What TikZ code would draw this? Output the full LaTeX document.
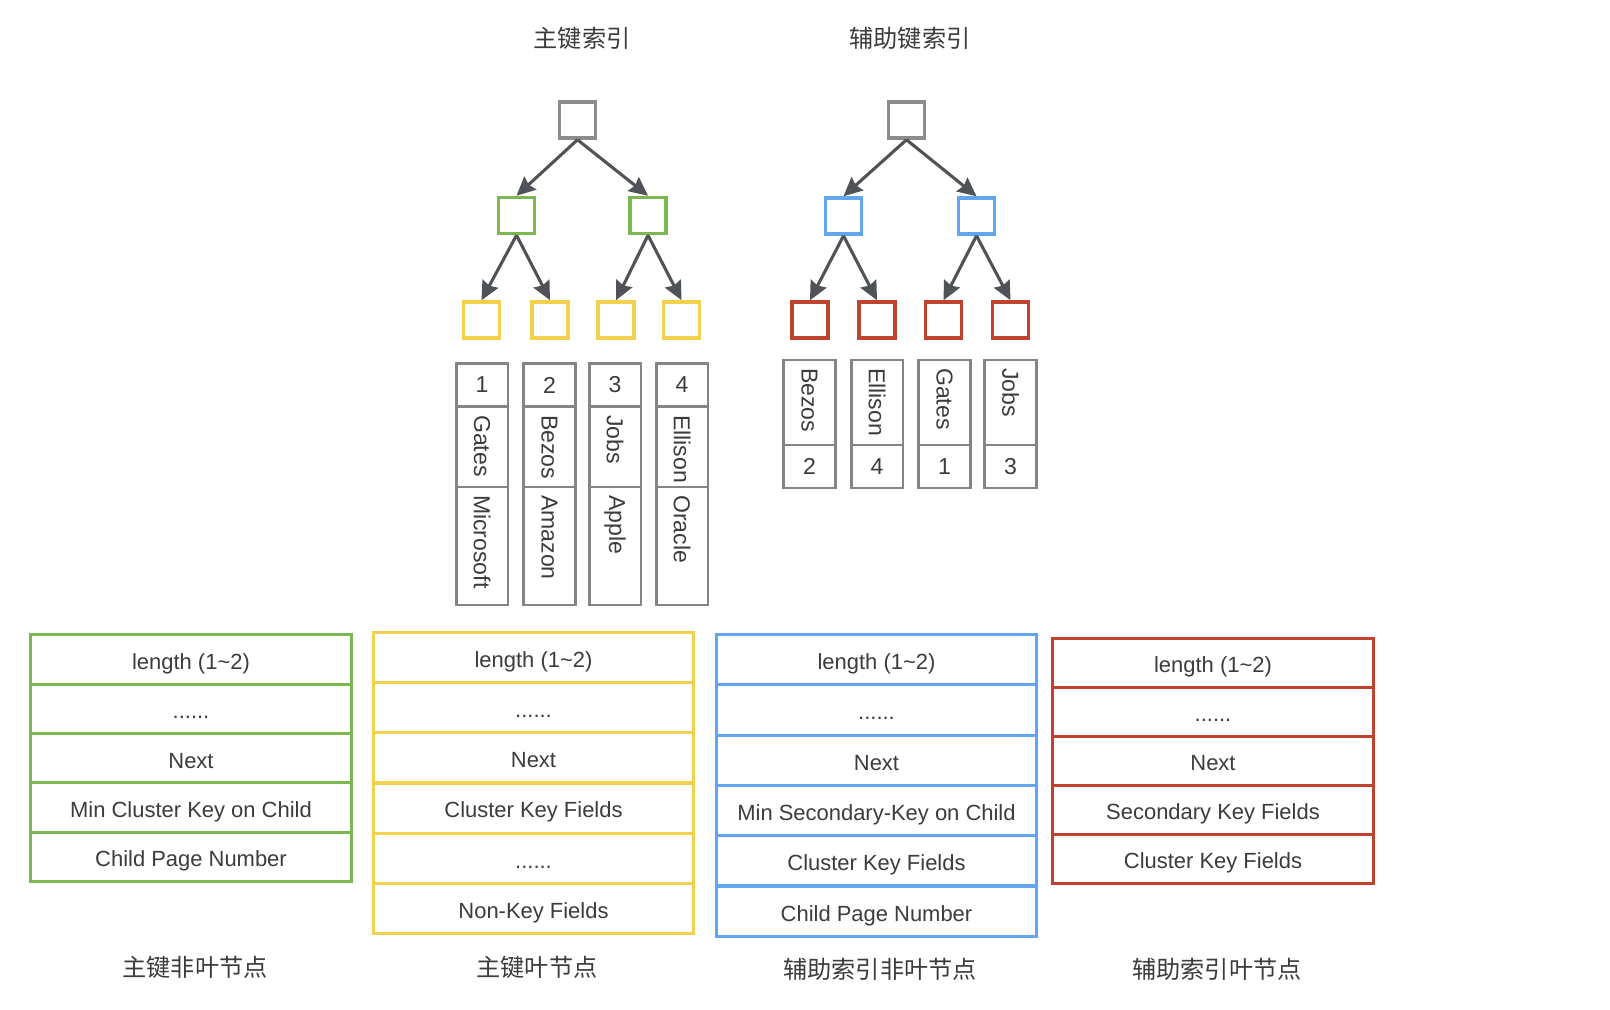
\documentclass[tikz,border=0pt]{standalone}
\usepackage{fontspec}
\setmainfont{Liberation Sans}
\newfontfamily\cjk{Noto Sans CJK SC}
\usepackage{xcolor}
\usetikzlibrary{arrows.meta,positioning}

\definecolor{treegray}{HTML}{8C8C8C}
\definecolor{colgray}{HTML}{858585}
\definecolor{arrowgray}{HTML}{4F5257}
\definecolor{txtgray}{HTML}{3C3C3C}
\definecolor{keygreen}{HTML}{7CB84F}
\definecolor{keyyellow}{HTML}{F2D14E}
\definecolor{keyblue}{HTML}{62A6F2}
\definecolor{keyred}{HTML}{C0432F}

\begin{document}
\begin{tikzpicture}[x=0.016cm, y=-0.016cm,
  tbox/.style={draw=#1, line width=1.5pt, minimum size=0.58cm, inner sep=0pt, fill=white},
  arr/.style={-{Stealth[length=8.5pt, width=8pt, inset=1pt]}, line width=1.4pt, draw=arrowgray},
  cell/.style={draw=colgray, line width=1.3pt, minimum width=0.83cm, inner sep=0pt, outer sep=0pt,
    font=\fontsize{10.5}{12}\selectfont, text=txtgray},
  vcell/.style={draw=colgray, line width=1.3pt, rotate=-90, minimum height=0.83cm, text width=#1,
    align=left, inner xsep=0.13cm, inner ysep=0pt, outer sep=0pt,
    font=\fontsize{10.5}{12}\selectfont, text=txtgray},
  row/.style={draw=#1, line width=1.4pt, minimum width=5.13cm, minimum height=0.79cm, inner sep=0pt,
    outer sep=0pt, text height=0.9em, text depth=0pt, font=\fontsize{10}{12}\selectfont, text=txtgray},
  lbl/.style={font=\cjk\fontsize{11}{13}\selectfont, text=txtgray}]

  \path[fill=white, use as bounding box] (0,0) rectangle (1610,1010);

  % ==========================================
  % SECTION 1: Primary key index tree
  % ==========================================
  \begin{scope}
    % Title
    \node[lbl] (ptitle) at (582,38) {主键索引};

    % Tree nodes
    \node[tbox=treegray] (pr) at (577.5,120) {};
    \node[tbox=keygreen] (pa) at (516.5,215.5) {};
    \node[tbox=keygreen] (pb) at (648,215.5) {};
    \node[tbox=keyyellow] (p1) at (481.5,320) {};
    \node[tbox=keyyellow] (p2) at (550,320) {};
    \node[tbox=keyyellow] (p3) at (616,320) {};
    \node[tbox=keyyellow] (p4) at (681.5,320) {};

    % Links
    \draw[arr] (pr.south) -- (pa.north);
    \draw[arr] (pr.south) -- (pb.north);
    \draw[arr] (pa.south) -- (p1.north);
    \draw[arr] (pa.south) -- (p2.north);
    \draw[arr] (pb.south) -- (p3.north);
    \draw[arr] (pb.south) -- (p4.north);

    % Leaf records (id, name, company)
    \node[cell, minimum height=0.70cm] (p1n) at (482,385) {1};
    \node[vcell=1.02cm] (p1k) at (482,447) {Gates};
    \node[vcell=1.63cm] (p1v) at (482,546) {Microsoft};
    \node[cell, minimum height=0.70cm] (p2n) at (549.5,385) {2};
    \node[vcell=1.02cm] (p2k) at (549.5,447) {Bezos};
    \node[vcell=1.63cm] (p2v) at (549.5,546) {Amazon};
    \node[cell, minimum height=0.70cm] (p3n) at (615,385) {3};
    \node[vcell=1.02cm] (p3k) at (615,447) {Jobs};
    \node[vcell=1.63cm] (p3v) at (615,546) {Apple};
    \node[cell, minimum height=0.70cm] (p4n) at (682,385) {4};
    \node[vcell=1.02cm] (p4k) at (682,447) {Ellison};
    \node[vcell=1.63cm] (p4v) at (682,546) {Oracle};
  \end{scope}

  % ==========================================
  % SECTION 2: Secondary key index tree
  % ==========================================
  \begin{scope}
    % Title
    \node[lbl] (stitle) at (910,38) {辅助键索引};

    % Tree nodes
    \node[tbox=treegray] (sr) at (906.5,120) {};
    \node[tbox=keyblue] (sa) at (843.5,216) {};
    \node[tbox=keyblue] (sb) at (976.5,216) {};
    \node[tbox=keyred] (s1) at (810,320) {};
    \node[tbox=keyred] (s2) at (877,320) {};
    \node[tbox=keyred] (s3) at (943.5,320) {};
    \node[tbox=keyred] (s4) at (1010.5,320) {};

    % Links
    \draw[arr] (sr.south) -- (sa.north);
    \draw[arr] (sr.south) -- (sb.north);
    \draw[arr] (sa.south) -- (s1.north);
    \draw[arr] (sa.south) -- (s2.north);
    \draw[arr] (sb.south) -- (s3.north);
    \draw[arr] (sb.south) -- (s4.north);

    % Leaf records (name, id)
    \node[vcell=1.10cm] (s1k) at (809.5,402.5) {Bezos};
    \node[cell, minimum height=0.69cm] (s1n) at (809.5,466.5) {2};
    \node[vcell=1.10cm] (s2k) at (877,402.5) {Ellison};
    \node[cell, minimum height=0.69cm] (s2n) at (877,466.5) {4};
    \node[vcell=1.10cm] (s3k) at (944.5,402.5) {Gates};
    \node[cell, minimum height=0.69cm] (s3n) at (944.5,466.5) {1};
    \node[vcell=1.10cm] (s4k) at (1010.5,402.5) {Jobs};
    \node[cell, minimum height=0.69cm] (s4n) at (1010.5,466.5) {3};
  \end{scope}

  % ==========================================
  % SECTION 3: Record formats
  % ==========================================
  % Primary key non-leaf
  \node[row=keygreen] (g1) at (191,659.5) {length (1\textasciitilde 2)};
  \node[row=keygreen, below=0pt of g1] (g2) {......};
  \node[row=keygreen, below=0pt of g2] (g3) {Next};
  \node[row=keygreen, below=0pt of g3] (g4) {Min Cluster Key on Child};
  \node[row=keygreen, below=0pt of g4] (g5) {Child Page Number};
  \node[lbl] (glbl) at (195,967) {主键非叶节点};

  % Primary key leaf
  \node[row=keyyellow, minimum height=0.803cm] (y1) at (533.5,657.6) {length (1\textasciitilde 2)};
  \node[row=keyyellow, minimum height=0.803cm, below=0pt of y1] (y2) {......};
  \node[row=keyyellow, minimum height=0.803cm, below=0pt of y2] (y3) {Next};
  \node[row=keyyellow, minimum height=0.803cm, below=0pt of y3] (y4) {Cluster Key Fields};
  \node[row=keyyellow, minimum height=0.803cm, below=0pt of y4] (y5) {......};
  \node[row=keyyellow, minimum height=0.803cm, below=0pt of y5] (y6) {Non-Key Fields};
  \node[lbl] (ylbl) at (537,967) {主键叶节点};

  % Secondary index non-leaf
  \node[row=keyblue, minimum height=0.805cm] (b1) at (876.5,659.7) {length (1\textasciitilde 2)};
  \node[row=keyblue, minimum height=0.805cm, below=0pt of b1] (b2) {......};
  \node[row=keyblue, minimum height=0.805cm, below=0pt of b2] (b3) {Next};
  \node[row=keyblue, minimum height=0.805cm, below=0pt of b3] (b4) {Min Secondary-Key on Child};
  \node[row=keyblue, minimum height=0.805cm, below=0pt of b4] (b5) {Cluster Key Fields};
  \node[row=keyblue, minimum height=0.805cm, below=0pt of b5] (b6) {Child Page Number};
  \node[lbl] (blbl) at (880,969) {辅助索引非叶节点};

  % Secondary index leaf
  \node[row=keyred, minimum height=0.784cm] (r1) at (1213,663) {length (1\textasciitilde 2)};
  \node[row=keyred, minimum height=0.784cm, below=0pt of r1] (r2) {......};
  \node[row=keyred, minimum height=0.784cm, below=0pt of r2] (r3) {Next};
  \node[row=keyred, minimum height=0.784cm, below=0pt of r3] (r4) {Secondary Key Fields};
  \node[row=keyred, minimum height=0.784cm, below=0pt of r4] (r5) {Cluster Key Fields};
  \node[lbl] (rlbl) at (1217,969) {辅助索引叶节点};

\end{tikzpicture}
\end{document}
